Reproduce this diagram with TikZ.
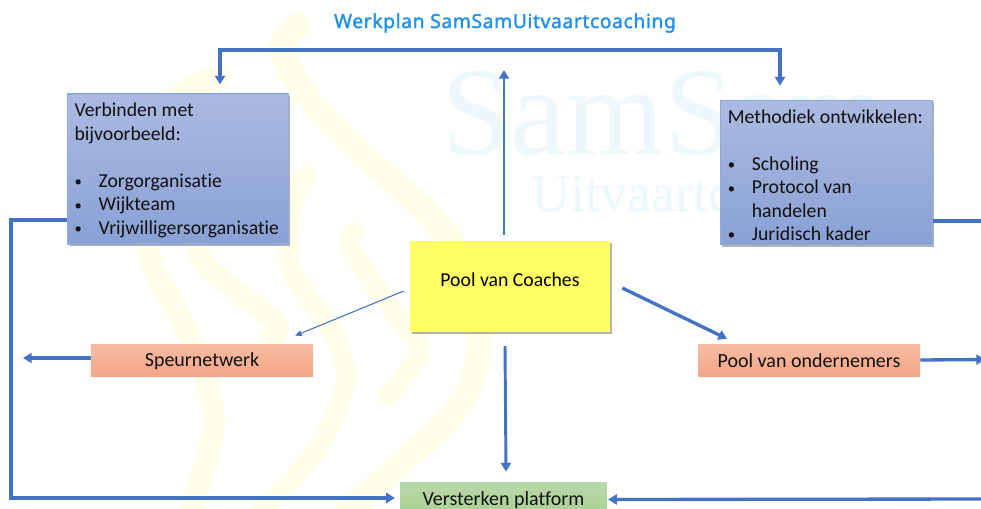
\documentclass[tikz,border=0pt]{standalone}
\usepackage{fontspec}
\setmainfont[Ligatures=NoCommon]{Carlito}
\newfontfamily\titlefont[LetterSpace=3,FakeBold=1.6]{Noto Sans}
\newfontfamily\markfont{Liberation Serif}
\usetikzlibrary{arrows.meta,shadows,positioning}
\definecolor{arrowblue}{HTML}{4472C4}
\definecolor{wmyellow}{HTML}{FFFEE9}
\definecolor{wmblue}{HTML}{EDF8FD}
\definecolor{titleblue}{HTML}{2090EE}
\definecolor{blueTop}{HTML}{ABBAE1}
\definecolor{blueBot}{HTML}{8AA1D5}
\definecolor{blueEdge}{HTML}{8FAADC}
\definecolor{orTop}{HTML}{F6BDA5}
\definecolor{orBot}{HTML}{F4A585}
\definecolor{grTop}{HTML}{B9D8AB}
\definecolor{grBot}{HTML}{A9D18E}
\definecolor{coachYellow}{HTML}{FFFF66}
\definecolor{inkc}{HTML}{111111}
\newcommand{\bul}[1]{\makebox[18pt][l]{\fontsize{11pt}{11pt}\selectfont\raisebox{.5pt}{\textbullet}}#1}
\newcommand{\boxtext}[3]{\raisebox{#1}[\height][\depth]{\parbox{#2}{\raggedright #3}}}
\newcommand{\lowered}[2][-.8pt]{\raisebox{#1}[\height][\depth]{#2}}
\tikzset{
  x=0.75pt,y=-0.75pt,
  softshadow/.style={general shadow={shadow xshift=1.2pt,shadow yshift=-1.5pt,fill=black,opacity=.3}},
  bluebox/.style={rectangle,draw=blueEdge,line width=.8pt,top color=blueTop,bottom color=blueBot,text=inkc,inner sep=0pt,font=\fontsize{14.8pt}{17.6pt}\selectfont,softshadow},
  orangebox/.style={rectangle,draw=none,top color=orTop,bottom color=orBot,minimum width=166.5pt,minimum height=24pt,inner sep=0pt,font=\fontsize{15pt}{18pt}\selectfont,text=inkc},
  yellowbox/.style={rectangle,draw=none,fill=coachYellow,minimum width=150pt,minimum height=68pt,inner sep=0pt,font=\fontsize{14.8pt}{18pt}\selectfont,text=black,softshadow},
  greenbox/.style={rectangle,draw=none,top color=grTop,bottom color=grBot,minimum width=155pt,minimum height=25pt,inner sep=0pt,font=\fontsize{15pt}{18pt}\selectfont,text=inkc},
  thickarrow/.style={draw=arrowblue,line width=2.5pt,-{Triangle[width=7.5pt,length=6.5pt]}},
  thinarrow/.style={draw=arrowblue,line width=.8pt,-{Triangle[width=4pt,length=5pt]}},
  plainline/.style={draw=arrowblue,line width=2.5pt},
  wmstroke/.style={draw=wmyellow,line cap=round,line join=round},
}
\begin{document}
\begin{tikzpicture}
\path[clip] (0,0) rectangle (981,508);
\fill[white] (0,0) rectangle (981,508);
% yellow watermark
\draw[wmstroke,line width=19pt] plot[smooth] coordinates {(297,25) (282,50) (310,100) (363,155) (430,215) (465,265) (480,333) (463,400) (397,467) (347,512)};
\draw[wmstroke,line width=17pt] plot[smooth] coordinates {(220,76) (175,100) (148,170) (150,257) (180,317) (207,383) (213,433) (190,512)};
\draw[wmstroke,line width=15pt] plot[smooth] coordinates {(307,176) (293,200) (290,267) (333,333) (345,383) (317,450) (260,512)};
\draw[wmstroke,line width=15pt] plot[smooth] coordinates {(355,232) (352,250) (397,317) (420,350) (405,375) (388,395)};
\draw[wmstroke,line width=16pt] plot[smooth] coordinates {(195,245) (210,270) (275,322) (272,338)};
% blue watermark text
\node[anchor=base west,inner sep=0pt,text=wmblue,font=\markfont\fontsize{94pt}{94pt}\selectfont] (wmA) at (441,154) {SamSam};
\node[anchor=base west,inner sep=0pt,text=wmblue,font=\markfont\fontsize{40.5pt}{41pt}\selectfont] (wmB) at (531,211) {Uitvaartcoaching};
% title
\node[inner sep=0pt,text=titleblue,font=\titlefont\fontsize{14.5pt}{16pt}\selectfont] (title) at (505,23) {Werkplan SamSamUitvaartcoaching};
% boxes
\node[bluebox,minimum width=165.5pt,minimum height=112.5pt] (lb) at (178.25,169) {\boxtext{-1pt}{155.5pt}{Verbinden met\\bijvoorbeeld:\\\strut\\\bul{Zorgorganisatie}\\\bul{Wijkteam}\\\bul{Vrijwilligersorganisatie}}};
\node[bluebox,minimum width=159.5pt,minimum height=108.5pt] (rb) at (826.5,172.5) {\boxtext{-2pt}{148pt}{Methodiek ontwikkelen:\\\strut\\\bul{Scholing}\\\bul{Protocol van}\\\hspace*{18pt}handelen\\\bul{Juridisch kader}}};
\node[yellowbox] (coach) at (510,286.5) {\raisebox{5pt}[\height][\depth]{Pool van Coaches}};
\node[orangebox] (speur) at (202,360) {\lowered{Speurnetwerk}};
\node[orangebox] (onder) at (809,360) {\lowered[-.3pt]{Pool van ondernemers}};
\node[greenbox] (platform) at (503.5,499.5) {\lowered[-.4pt]{Versterken platform}};
% free ends
\coordinate (top) at (500,50);
\coordinate (leftcorner) at (11,220);
\coordinate (rightedgeA) at (985,221);
\coordinate (rightedgeB) at (985,499);
\coordinate (rightedgeC) at (985,359.5);
\coordinate (leftend) at (23,358);
\coordinate (upend) at (504,70);
% connectors
\draw[plainline,{Triangle[width=7.5pt,length=6.5pt]}-{Triangle[width=7.5pt,length=6.5pt]}] ([shift={(41.75,-9)}]lb.north) |- (top) -| ([shift={(-46.5,-14)}]rb.north);
\draw[thickarrow,line width=2.2pt] ([shift={(-6,-6)}]coach.north) -- (upend);
\draw[thickarrow,line width=2.2pt] ([shift={(-5,14)}]coach.south) -- ([shift={(2.5,-11)}]platform.north);
\draw[thinarrow] ([shift={(-6,4.5)}]coach.west) -- ([shift={(93,-8)}]speur.north);
\draw[thickarrow] ([shift={(12,1.5)}]coach.east) -- ([shift={(-82,-5)}]onder.north);
\draw[thickarrow] ([shift={(0,-2)}]speur.west) -- (leftend);
\draw[thickarrow] (onder.east) -- (rightedgeC);
\draw[thickarrow] ([shift={(0,51)}]lb.west) -- (leftcorner) |- ([shift={(-5,-1.5)}]platform.west);
\draw[plainline] ([shift={(0,48.5)}]rb.east) -- (rightedgeA);
\draw[thickarrow] (rightedgeB) -- ([shift={(1,0)}]platform.east);
\end{tikzpicture}
\end{document}
